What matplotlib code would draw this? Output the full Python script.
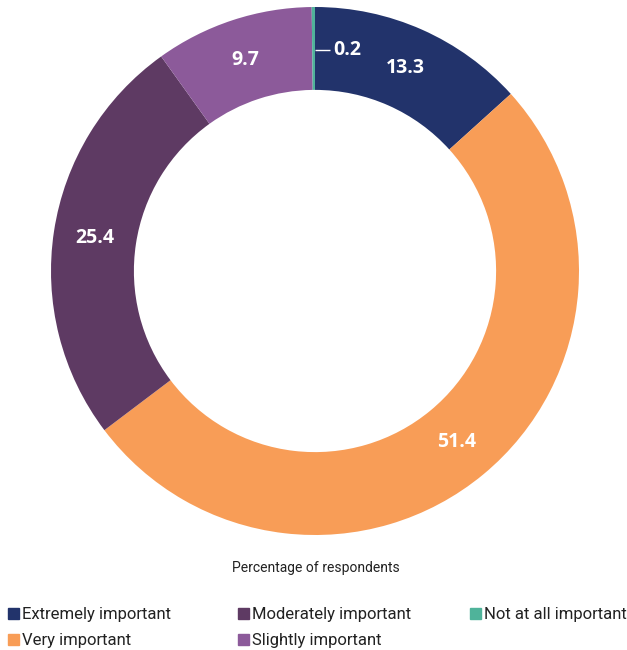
import matplotlib
matplotlib.use("Agg")
import matplotlib.pyplot as plt
from matplotlib.patches import Rectangle
import numpy as np

# Data (clockwise from 12 o'clock)
categories = ["Extremely important", "Very important", "Moderately important",
              "Slightly important", "Not at all important"]
values = [13.3, 51.4, 25.4, 9.7, 0.2]
colors = ["#22336b", "#f89d57", "#5e3a63", "#8c5a9a", "#4fb39a"]

# legend layout: (column, row) for each category
legend_pos = [(0, 0), (0, 1), (1, 0), (1, 1), (2, 0)]

plt.rcParams["font.family"] = ["Roboto", "DejaVu Sans"]

W, H = 627, 650
fig = plt.figure(figsize=(W / 100, H / 100), dpi=100)

# donut axes: outer circle spans x 51..579, y 7..535 (pixels from top)
ax = fig.add_axes([51 / W, (H - 535) / H, 528 / W, 528 / H])
ring = 0.314
wedges, _ = ax.pie(values, colors=colors, startangle=90, counterclock=False,
                   radius=1.0, wedgeprops=dict(width=ring, linewidth=0))
ax.set_xlim(-1, 1)
ax.set_ylim(-1, 1)
ax.set_aspect("equal")
ax.axis("off")

# value labels in the ring
mid_r = 1 - ring / 2
for w, v in zip(wedges, values):
    if v < 1:
        continue
    ang = np.deg2rad((w.theta1 + w.theta2) / 2)
    ax.text(mid_r * np.cos(ang), mid_r * np.sin(ang), f"{v:.1f}", color="white",
            fontsize=14, fontweight="bold", ha="center", va="center",
            family=["Open Sans", "DejaVu Sans"])

# small slice label with leader line
y0 = 0.837
ax.plot([0.0, 0.058], [y0, y0], color="white", lw=1.0, solid_capstyle="butt")
ax.text(0.068, y0, f"{values[-1]:.1f}", color="white", fontsize=14, fontweight="bold",
        ha="left", va="center", family=["Open Sans", "DejaVu Sans"])

fig.text(316 / W, 1 - 568 / H, "Percentage of respondents", ha="center", va="center",
         fontsize=10, color="#222222")

# legend
col_x = [8, 238, 470]
row_y = [614, 640]
for cat, col, (c, r) in zip(categories, colors, legend_pos):
    x = col_x[c]
    y = row_y[r]
    fig.add_artist(Rectangle((x / W, 1 - (y + 5) / H), 11 / W, 11 / H,
                             transform=fig.transFigure, color=col))
    fig.text((x + 14) / W, 1 - y / H, cat, ha="left", va="center",
             fontsize=12, color="#222222")

fig.savefig("out.png", dpi=100)
